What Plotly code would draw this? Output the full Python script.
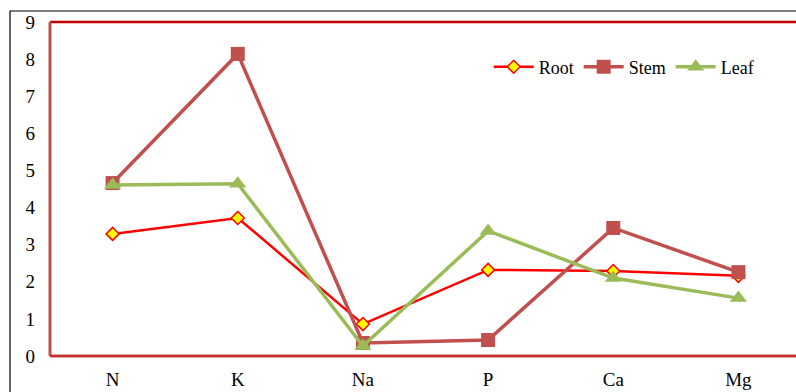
import plotly.graph_objects as go

categories = ["N", "K", "Na", "P", "Ca", "Mg"]
root = [3.29, 3.72, 0.86, 2.32, 2.29, 2.16]
stem = [4.66, 8.14, 0.35, 0.43, 3.45, 2.26]
leaf = [4.61, 4.64, 0.27, 3.37, 2.10, 1.56]
y_ticks = list(range(0, 10))

xs = list(range(len(categories)))

fig = go.Figure()
fig.add_trace(go.Scatter(
    x=xs, y=root, name="Root", mode="lines+markers",
    line=dict(color="#FF0000", width=2.5),
    marker=dict(symbol="diamond", size=10, color="#FFFF00",
                line=dict(color="#FF0000", width=1.5)),
))
fig.add_trace(go.Scatter(
    x=xs, y=stem, name="Stem", mode="lines+markers",
    line=dict(color="#C0504D", width=3.5),
    marker=dict(symbol="square", size=14, color="#C0504D"),
))
fig.add_trace(go.Scatter(
    x=xs, y=leaf, name="Leaf", mode="lines+markers",
    line=dict(color="#9BBB59", width=3.5),
    marker=dict(symbol="triangle-up", size=15, color="#9BBB59"),
))

font_family = "Liberation Serif, Times New Roman, serif"

fig.update_layout(
    width=796, height=392,
    margin=dict(l=50, r=0, t=22, b=36, autoexpand=False),
    paper_bgcolor="white", plot_bgcolor="white",
    font=dict(family=font_family, size=19, color="#000000"),
    showlegend=True,
    legend=dict(orientation="h", x=0.588, y=0.865, xanchor="left", yanchor="middle",
                font=dict(family=font_family, size=18), bgcolor="rgba(0,0,0,0)",
                itemwidth=40, tracegroupgap=0),
    xaxis=dict(
        range=[-0.5, 5.46], tickmode="array", tickvals=xs, ticktext=categories,
        showgrid=False, zeroline=False, showline=False, automargin=False,
        ticks="", ticklabelstandoff=10,
        tickfont=dict(family=font_family, size=19),
    ),
    yaxis=dict(
        range=[0, 9], tickmode="array", tickvals=y_ticks,
        showgrid=False, zeroline=False, showline=False, automargin=False,
        ticks="", ticklabelstandoff=14,
        tickfont=dict(family=font_family, size=19),
    ),
    shapes=[
        # outer frame
        dict(type="rect", xref="paper", yref="paper",
             x0=-0.0536, y0=-0.3, x1=1.2, y1=1.0329,
             line=dict(color="#000000", width=1.2), layer="below"),
        # top border
        dict(type="line", xref="paper", yref="paper", x0=0, x1=1.05, y0=1, y1=1,
             line=dict(color="#C00000", width=2.5)),
        # left border
        dict(type="line", xref="paper", yref="paper", x0=0, x1=0, y0=0, y1=1,
             line=dict(color="#C0504D", width=3)),
        # bottom border
        dict(type="line", xref="paper", yref="paper", x0=0, x1=1.05, y0=0, y1=0,
             line=dict(color="#C0504D", width=3)),
        dict(type="line", xref="paper", yref="paper", x0=0, x1=1.05, y0=0, y1=0,
             line=dict(color="#D01010", width=1)),
    ],
)

fig.write_html(
    "out.html",
    config={"displayModeBar": False},
    post_script="document.body.style.margin='0px';document.body.style.overflow='hidden';",
)
